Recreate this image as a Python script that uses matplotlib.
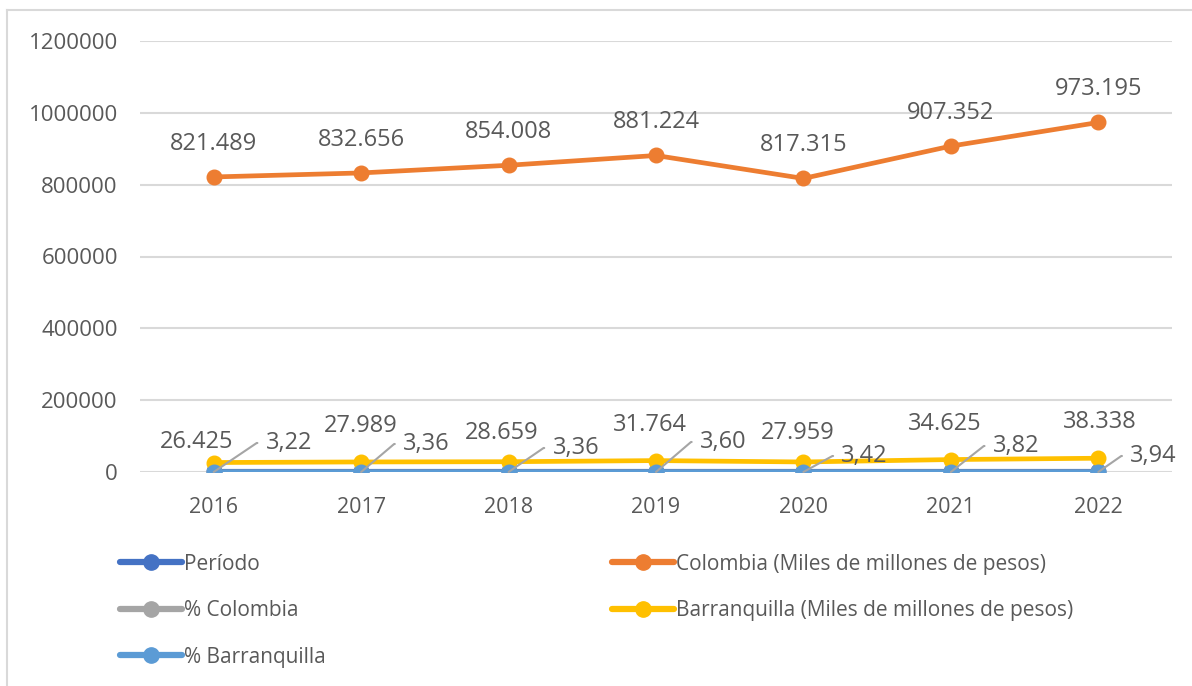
import numpy as np
import matplotlib.pyplot as plt
from matplotlib.lines import Line2D
from matplotlib.ticker import StrMethodFormatter

plt.rcParams['font.family'] = ['Open Sans', 'DejaVu Sans']

years = ['2016', '2017', '2018', '2019', '2020', '2021', '2022']
periodo = [2016, 2017, 2018, 2019, 2020, 2021, 2022]
colombia = [821489, 832656, 854008, 881224, 817315, 907352, 973195]
pct_colombia = [3.22, 3.36, 3.36, 3.60, 3.42, 3.82, 3.94]
barranquilla = [26425, 27989, 28659, 31764, 27959, 34625, 38338]
pct_barranquilla = [3.2, 3.4, 3.4, 3.6, 3.4, 3.8, 3.9]

col_lbl = ['821.489', '832.656', '854.008', '881.224', '817.315', '907.352', '973.195']
bq_lbl = ['26.425', '27.989', '28.659', '31.764', '27.959', '34.625', '38.338']
pct_lbl = ['3,22', '3,36', '3,36', '3,60', '3,42', '3,82', '3,94']

# label offsets in pixels (dx, dy) from the point
bq_off = [(-17, 21), (0, 36), (-7, 29), (-6, 36), (-6, 29), (-6, 36), (2, 36)]
pct_off = [(52, 29), (42, 28), (44, 24), (44, 30), (38, 16), (42, 26), (32, 16)]

C_DARK = '#4472C4'
C_ORANGE = '#ED7D31'
C_GRAY = '#A5A5A5'
C_YELLOW = '#FFC000'
C_BLUE = '#5B9BD5'
TXT = '#595959'
FS = 15.5
FS_LBL = 17

def main():
 fig = plt.figure(figsize=(11.92, 6.86), dpi=100)
 ax = fig.add_axes([140/1192, 1-472/686, 1032/1192, 431/686])
 x = np.arange(len(years))
 kw = dict(lw=3.4, marker='o', ms=10.5, solid_capstyle='round')
 ax.plot(x, periodo, color=C_DARK, **kw)
 ax.plot(x, colombia, color=C_ORANGE, **kw)
 ax.plot(x, pct_colombia, color=C_GRAY, **kw)
 ax.plot(x, barranquilla, color=C_YELLOW, **kw)
 ax.plot(x, pct_barranquilla, color=C_BLUE, **kw)

 ax.set_xlim(-0.5, 6.5)
 ax.set_ylim(0, 1200000)
 ax.set_yticks(np.arange(0, 1200001, 200000))
 ax.yaxis.set_major_formatter(StrMethodFormatter('{x:.0f}'))
 ax.set_xticks(x)
 ax.set_xticklabels(years)
 ax.grid(axis='y', color='#D9D9D9', lw=1.5)
 ax.set_axisbelow(True)
 for s in ax.spines.values():
  s.set_visible(False)
 ax.tick_params(length=0, labelsize=FS, labelcolor=TXT)
 ax.tick_params(axis='x', pad=18)
 ax.tick_params(axis='y', labelsize=16, pad=16)

 for i in range(len(x)):
  ax.annotate(col_lbl[i], (x[i], colombia[i]), xytext=(0, 33), textcoords='offset pixels',
              ha='center', va='center', fontsize=FS_LBL, color=TXT)
  ax.annotate(bq_lbl[i], (x[i], barranquilla[i]), xytext=bq_off[i], textcoords='offset pixels',
              ha='center', va='center', fontsize=FS_LBL, color=TXT)
  ax.annotate(pct_lbl[i], (x[i], pct_colombia[i]), xytext=pct_off[i], textcoords='offset pixels',
              ha='left', va='center', fontsize=FS_LBL, color=TXT,
              arrowprops=dict(arrowstyle='-', color=C_GRAY, lw=1.5, relpos=(0, 0.5),
                              shrinkA=4, shrinkB=0,
                              connectionstyle='arc,angleA=180,angleB=0,armA=9,armB=0,rad=0'))

 # legend
 def h(c):
  return Line2D([], [], color=c, lw=4.5, marker='o', ms=11, solid_capstyle='round')
 handles = [h(C_DARK), h(C_GRAY), h(C_BLUE), h(C_ORANGE), h(C_YELLOW)]
 labels = ['Período', '% Colombia', '% Barranquilla',
           'Colombia (Miles de millones de pesos)', 'Barranquilla (Miles de millones de pesos)']
 fig.legend(handles, labels, loc='upper left', bbox_to_anchor=(101/1192, 1-535/686), ncol=2,
            frameon=False, fontsize=15, labelcolor=TXT, handlelength=3.0, handletextpad=0.1,
            columnspacing=13.7, labelspacing=1.22)

 # frame: top and left edges only
 fig.add_artist(Line2D([7/1192, 1], [1-10/686, 1-10/686], color='#D9D9D9', lw=1.5))
 fig.add_artist(Line2D([7/1192, 7/1192], [0, 1-10/686], color='#D9D9D9', lw=1.5))

 fig.savefig('out.png', dpi=100)

if __name__ == '__main__':
 main()
